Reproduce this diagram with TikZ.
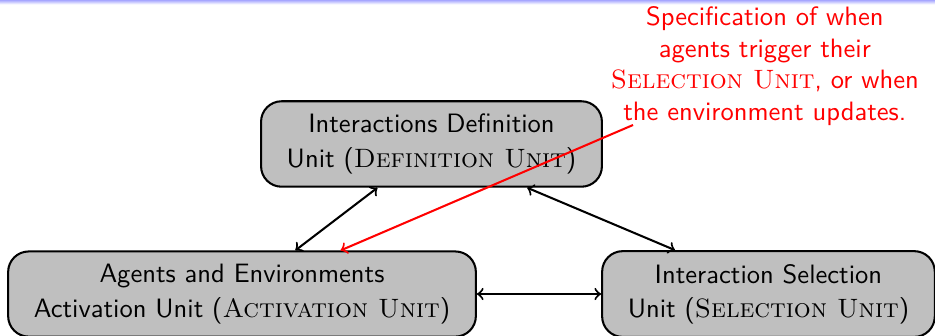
\documentclass[tikz,border=0pt]{standalone}
\usetikzlibrary{shadings}

\newcommand{\unitname}[1]{{\rmfamily\scshape #1}}

\begin{document}
\begin{tikzpicture}[font=\fontsize{10.35}{13.4}\selectfont\sffamily]
\tikzset{ >=to, unitbox/.style={draw, thick, fill=lightgray, rounded corners=8pt,
  align=center, inner xsep=10pt, inner ysep=5pt, minimum height=1.14cm},
  note/.style={red, align=center, font=\fontsize{10.35}{12.3}\selectfont\sffamily} }

\useasboundingbox (0,0) rectangle (12.8,-4.586);
\shade [top color=blue!35!white, bottom color=white] (0,0) rectangle (12.8,-0.06);

%\draw [lightgray, dashed](0,0) grid (12.8,-4.6);

\node [unitbox] (D) at (5.907,-1.971) {Interactions Definition\\ Unit (\unitname{Definition Unit})};
\node [unitbox] (A) at (3.313,-4.025) {Agents and Environments\\ Activation Unit (\unitname{Activation Unit})};
\node [unitbox] (S) at (10.52,-4.025) {Interaction Selection\\ Unit (\unitname{Selection Unit})};

\draw [<->, thick] ([xshift=-0.74cm]D.south) -- ([xshift=0.73cm]A.north);
\draw [<->, thick] ([xshift=1.31cm]D.south)  -- ([xshift=-1.28cm]S.north);
\draw [<->, thick] (A.east) -- (S.west);

\node [note] (N) at (10.47,-0.904) {Specification of when\\ agents trigger their\\
  \unitname{Selection Unit}, or when\\ the environment updates.};

\coordinate (T) at (8.666,-1.711);
\draw [->, thick, red] (T) -- ([xshift=1.35cm]A.north);

\end{tikzpicture}
\end{document}
